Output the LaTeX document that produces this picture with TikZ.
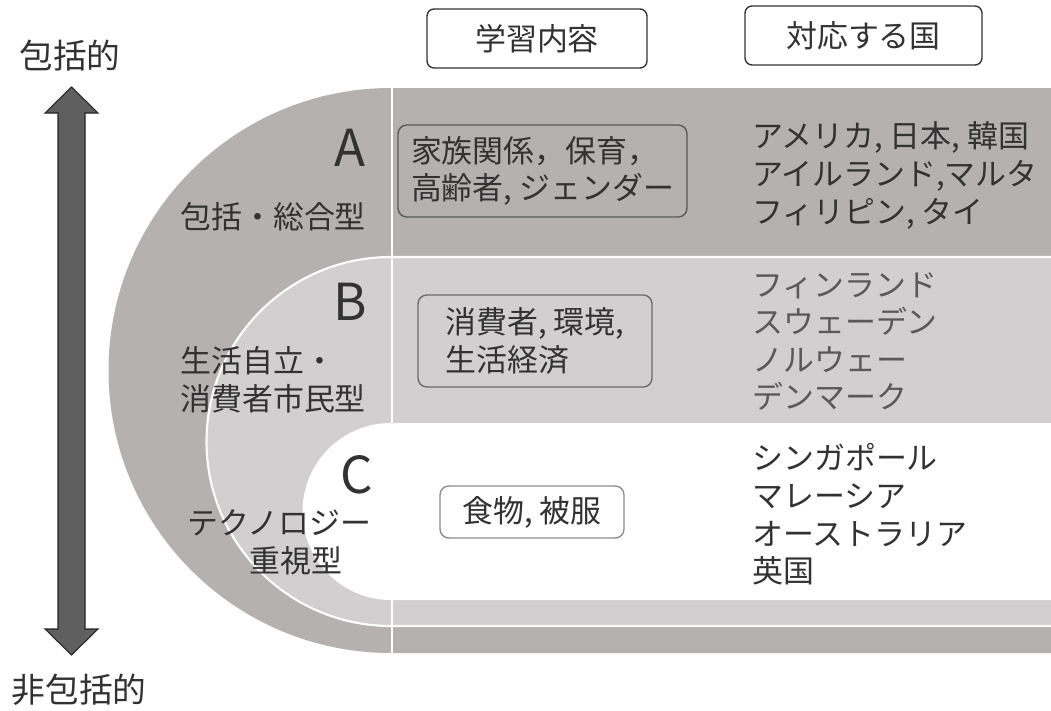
\documentclass[tikz,border=0pt]{standalone}
\usepackage{fontspec}
\setmainfont{Noto Sans CJK JP}
\definecolor{bandA}{RGB}{180,177,176}
\definecolor{bandB}{RGB}{209,207,207}
\definecolor{ink}{RGB}{50,50,50}
\definecolor{arrowgray}{RGB}{95,95,95}

\begin{document}
\begin{tikzpicture}[x=0.02cm,y=-0.02cm,
    every node/.style={text=ink,font=\fontsize{17.6}{21.4}\selectfont},
    headbox/.style={draw=black!80,line width=0.8pt,rounded corners=4pt,minimum height=1.18cm},
    topicbox/.style={rounded corners=5pt,line width=0.8pt,align=left,inner sep=0pt},
    country/.style={anchor=west,align=left,inner sep=0pt},
    typelabel/.style={anchor=west,align=left,inner sep=0pt},
    letter/.style={font=\fontsize{29}{30}\selectfont,inner sep=0pt},
    axislabel/.style={font=\fontsize{19.2}{20}\selectfont,inner sep=0pt}]
      \useasboundingbox (0,0) rectangle (1051,710);

      % the three nested bands
      \fill [bandA] (1051,88) -- (391,88) arc [start angle=270,end angle=90,radius=282.5] -- (1051,653) -- cycle;
      \filldraw [fill=bandB,draw=white,line width=1.2pt] (1060,257) -- (391,257) arc [start angle=270,end angle=90,radius=184.5] -- (1060,626) -- cycle;
      \fill [white] (1060,423) -- (391,423) arc [start angle=270,end angle=90,radius=88.5] -- (1060,600) -- cycle;
      \draw [white,line width=1.2pt] (392,88) -- (392,653);

      % scale arrow
      \coordinate (hi) at (71.5,87);
      \coordinate (lo) at (71.5,655);
      \filldraw [fill=arrowgray,draw=black!85,line width=0.6pt] (hi) -- ++(26.5,26) -- ++(-13,0) -- ++(0,516) -- ++(13,0)
        -- (lo) -- ++(-26.5,-26) -- ++(13,0) -- ++(0,-516) -- ++(-13,0) -- cycle;
      \node (incl) [axislabel] at (70,56) {包括的};
      \node (nonincl) [axislabel] at (79,690) {非包括的};

      % column heads
      \node (content) [headbox,minimum width=4.4cm] at (537,38.5) {学習内容};
      \node (nations) [headbox,minimum width=4.74cm] at (863.5,35.5) {対応する国};

      % A
      \node (A) [letter] at (350,148) {A};
      \node (typeA) [typelabel] at (180,217) {包括・総合型};
      \node (topicA) [topicbox,draw=black!65,minimum width=5.78cm,minimum height=1.84cm] at (542.5,171) {家族関係，保育，\\高齢者, ジェンダー};
      \node (landA) [country] at (752,175.5) {アメリカ, 日本, 韓国\\アイルランド,マルタ\\フィリピン, タイ};

      % B
      \node (B) [letter] at (350,302) {B};
      \node (typeB) [typelabel] at (180,380) {生活自立・\\消費者市民型};
      \node (topicB) [topicbox,draw=black!58,minimum width=4.68cm,minimum height=1.84cm] at (535,341) {消費者, 環境,\\生活経済};
      \node (landB) [country,text=black!65] at (752,341.5) {フィンランド\\スウェーデン\\ノルウェー\\デンマーク};

      % C
      \node (C) [letter] at (357,475) {C};
      \node (typeC) [typelabel] at (187,542) {テクノロジー\\\hspace*{2em}重視型};
      \node (topicC) [topicbox,draw=black!45,minimum width=3.68cm,minimum height=1.04cm] at (532,512) {食物, 被服};
      \node (landC) [country] at (752,514.5) {シンガポール\\マレーシア\\オーストラリア\\英国};
    \end{tikzpicture}
\end{document}
